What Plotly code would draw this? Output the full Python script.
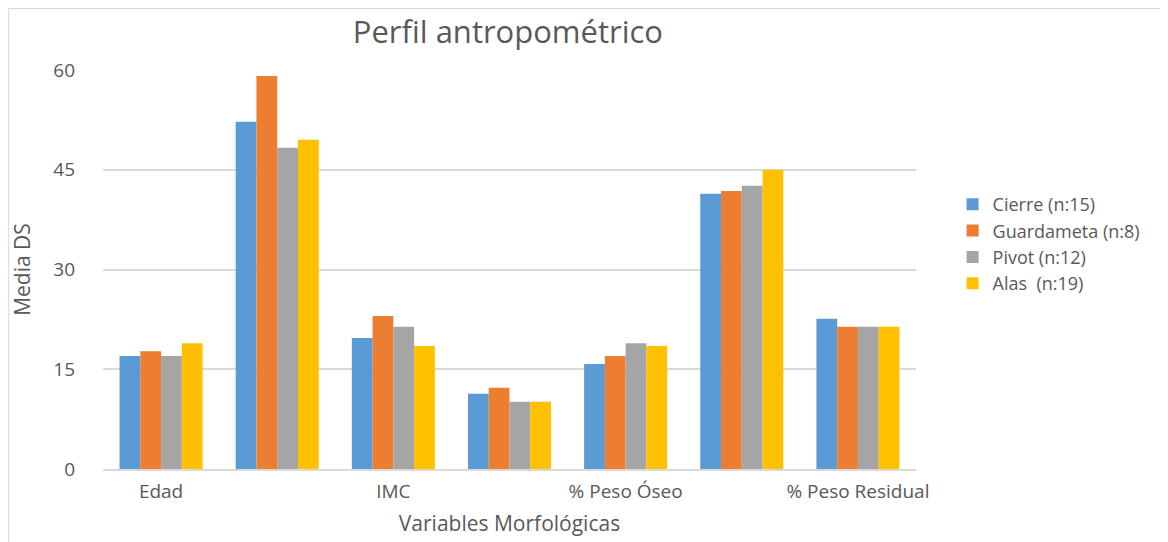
import plotly.graph_objects as go

categories = ["Edad", "Peso", "IMC", "% Peso Graso", "% Peso Óseo", "% Peso Muscular", "% Peso Residual"]
tick_labels = ["Edad", "", "IMC", "", "% Peso Óseo", "", "% Peso Residual"]

cierre = [17.0, 52.2, 19.7, 11.3, 15.8, 41.4, 22.6]
guardameta = [17.7, 59.1, 23.0, 12.2, 17.0, 41.8, 21.4]
pivot = [17.0, 48.3, 21.4, 10.1, 18.9, 42.6, 21.4]
alas = [18.9, 49.5, 18.5, 10.1, 18.5, 45.0, 21.4]

series = [
    ("Cierre (n:15)", cierre, "#5b9bd5"),
    ("Guardameta (n:8)", guardameta, "#ed7d31"),
    ("Pivot (n:12)", pivot, "#a5a5a5"),
    ("Alas  (n:19)", alas, "#ffc000"),
]

fig = go.Figure()
for name, vals, col in series:
    fig.add_trace(go.Bar(x=categories, y=vals, name=name, marker_color=col,
                         marker_line_width=0))

txt = "#595959"
# page body has an 8px margin, so everything is nudged up/left by 8px
fig.update_layout(
    template="none",
    width=1168, height=542,
    barmode="group", bargap=0.285, bargroupgap=0,
    font=dict(family="Open Sans", color=txt, size=19),
    title=dict(text="Perfil antropométrico", xref="container", x=0.428, xanchor="center",
               y=0.955, yanchor="middle", font=dict(size=31, color=txt)),
    margin=dict(l=95, r=260, t=62, b=81, autoexpand=False),
    plot_bgcolor="white", paper_bgcolor="white",
    legend=dict(x=1.045, y=0.564, xanchor="left", yanchor="middle",
                font=dict(size=18, color=txt), tracegroupgap=0,
                itemwidth=30),
    showlegend=True,
)
fig.update_xaxes(tickmode="array", tickvals=categories, ticktext=tick_labels,
                 showline=True, linecolor="#d9d9d9", linewidth=2, automargin=False,
                 showgrid=False, ticks="", tickfont=dict(size=19), ticklabelstandoff=4,
                 title=dict(text="Variables Morfológicas", font=dict(size=21), standoff=14))
fig.update_yaxes(range=[0, 60], dtick=15, showgrid=True, gridcolor="#d9d9d9",
                 gridwidth=2, zeroline=False, ticks="", tickfont=dict(size=19),
                 automargin=False, ticklabelstandoff=27,
                 title=dict(text="Media DS", font=dict(size=21), standoff=23))
fig.add_shape(type="rect", xref="paper", yref="paper", x0=-0.116, x1=1.4,
              y0=-0.3, y1=1.154, line=dict(color="#d9d9d9", width=1), layer="below")

fig.write_html("out.html")
